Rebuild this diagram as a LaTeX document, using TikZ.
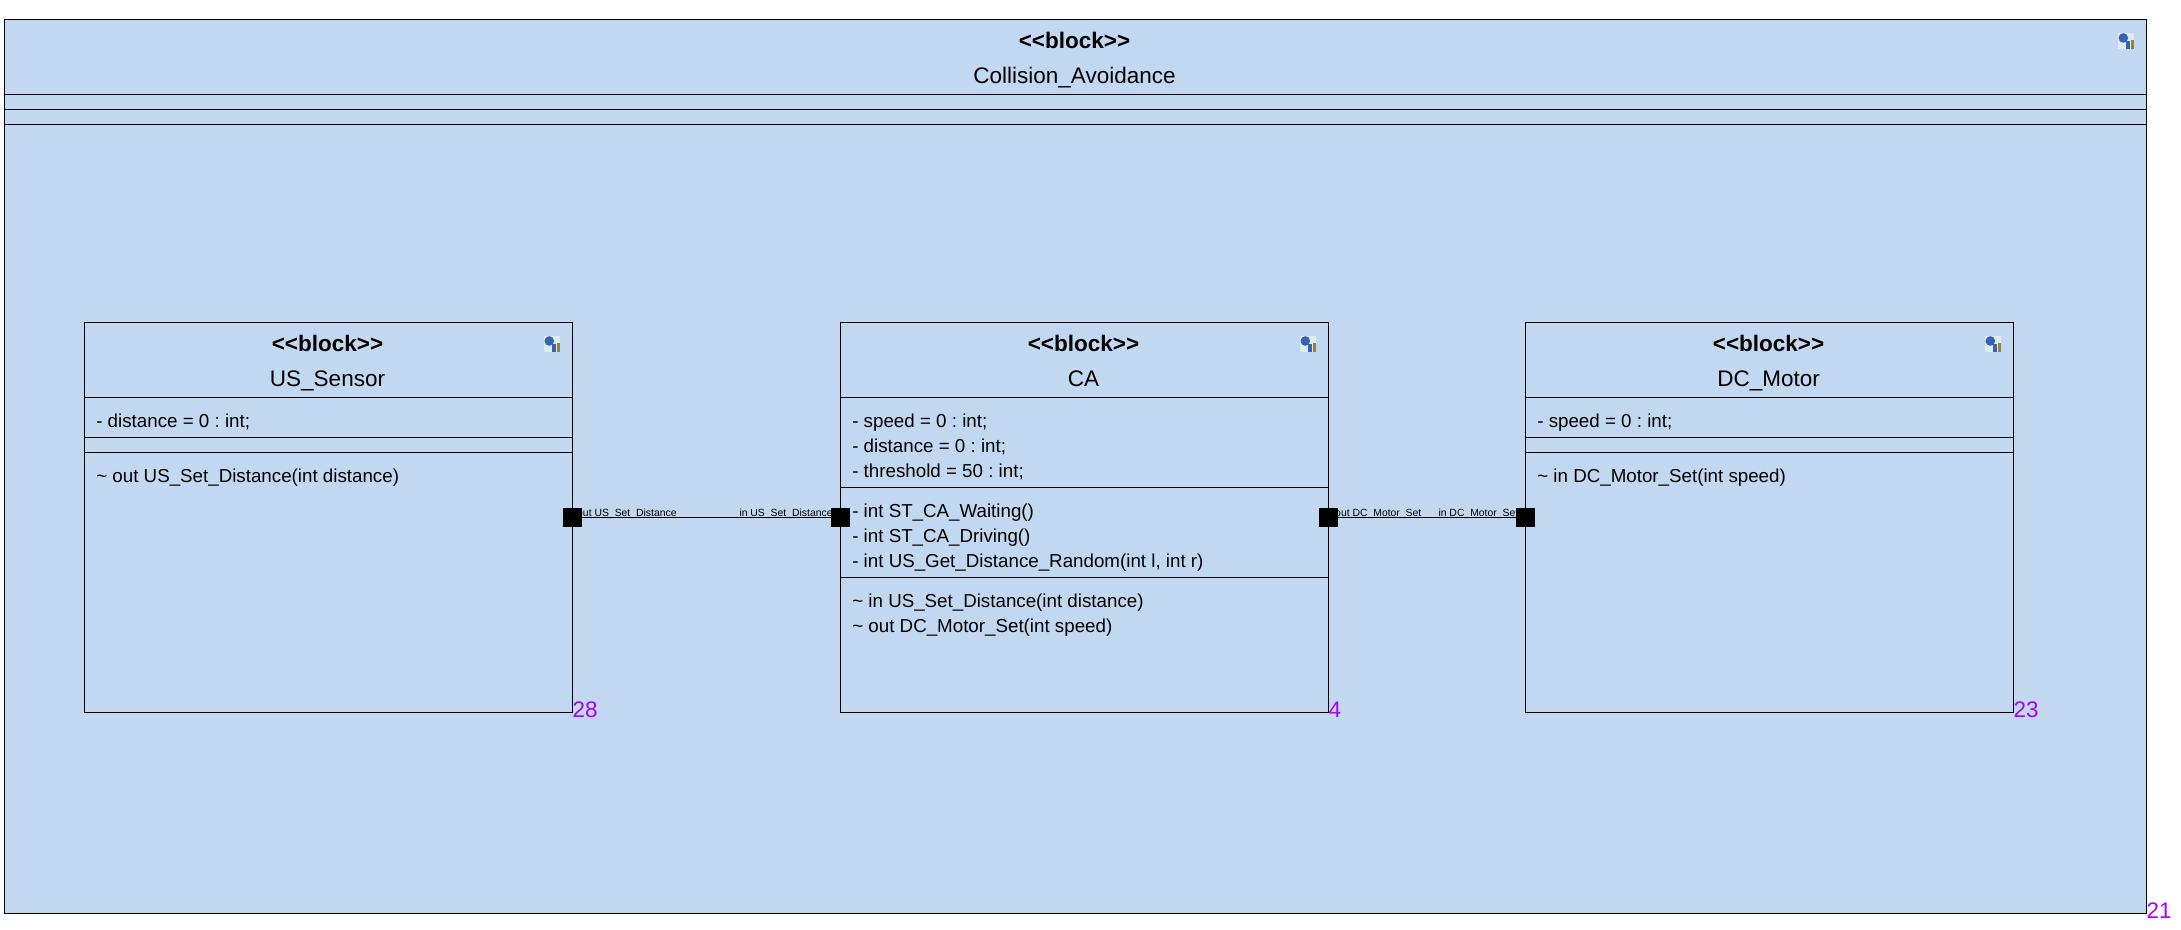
\documentclass[tikz,border=0pt]{standalone}
\usepackage{fontspec}
\setmainfont{Liberation Sans}
\usetikzlibrary{positioning}
\frenchspacing
\definecolor{blockblue}{HTML}{C2D8F0}
\definecolor{countpurple}{HTML}{AA00FF}
\definecolor{iconpale}{HTML}{DCEBEF}
\definecolor{iconblue}{HTML}{3A62B4}
\definecolor{iconbrown}{HTML}{9A8434}
\newcommand{\stereolabel}{{<}{<}block{>}{>}}
\tikzset{
  blockbox/.style={draw,line width=1.2pt,fill=blockblue,inner sep=0pt,outer sep=0pt,
    minimum width=488pt,minimum height=390pt},
  portbox/.style={fill=black,inner sep=0pt,outer sep=0pt,minimum size=19pt},
  stereotext/.style={font=\fontsize{22.5}{27}\selectfont\bfseries,anchor=base,inner sep=0pt},
  titletext/.style={font=\fontsize{22.5}{27}\selectfont,anchor=base,inner sep=0pt},
  membertext/.style={font=\fontsize{18.75}{25}\selectfont,anchor=base west,inner sep=0pt},
  porttext/.style={font=\fontsize{10.4}{12}\selectfont,anchor=base west,inner sep=0pt},
  counttext/.style={font=\fontsize{22.5}{27}\selectfont,text=countpurple,anchor=base west,inner sep=0pt},
  modelicon/.pic={
    \fill[iconpale] (-28.5,13) rectangle (-12.5,29);
    \fill[iconbrown] (-16,20.5) rectangle (-12.5,29);
    \fill[iconblue] (-23.2,18.5) circle (4.8pt);
    \fill[iconblue] (-21,21) rectangle (-16.5,29);
  }
}
\begin{document}
\begin{tikzpicture}[x=1pt,y=-1pt]
    \useasboundingbox (0,0) rectangle (2181,929);
    %% outer block
    \node[blockbox,minimum width=2142pt,minimum height=894pt] (avoid) at (1075.5,466.5) {};
    \foreach \ypos in {75,90,105}
      \draw[line width=1.2pt] ([shift={(0,\ypos)}]avoid.north west) -- ([shift={(0,\ypos)}]avoid.north east);
    \pic at (avoid.north east) {modelicon};
    \node[stereotext] (avoidstereo) at ([shift={(-1,28.5)}]avoid.north) {\stereolabel};
    \node[titletext] (avoidtitle) at ([shift={(-1,63.5)}]avoid.north) {Collision\_Avoidance};
    \node[counttext] (avoidcount) at ([shift={(0,5)}]avoid.south east) {21};
    %% inner blocks
    \node[blockbox] (us) at (328.5,517.5) {};
    \node[blockbox,right=268pt of us] (ca) {};
    \node[blockbox,right=197pt of ca] (dc) {};
    %% compartments
    \foreach \blk/\ypos in {us/75,us/115,us/130,ca/75,ca/165,ca/255,dc/75,dc/115,dc/130}
      \draw[line width=1.2pt] ([shift={(0,\ypos)}]\blk.north west) -- ([shift={(0,\ypos)}]\blk.north east);
    %% headers
    \foreach \blk/\name in {us/US\_Sensor,ca/CA,dc/DC\_Motor} {
      \pic at (\blk.north east) {modelicon};
      \node[stereotext] (\blk stereo) at ([shift={(-1,28.5)}]\blk.north) {\stereolabel};
      \node[titletext] (\blk title) at ([shift={(-1,63.5)}]\blk.north) {\name};
    }
    %% members
    \node[membertext] (usattr) at ([shift={(11.6,105.2)}]us.north west) {- distance = 0 : int;};
    \node[membertext] (usop) at ([shift={(11.6,160.2)}]us.north west) {\textasciitilde\ out US\_Set\_Distance(int distance)};
    \node[membertext] (caattra) at ([shift={(11.6,105.2)}]ca.north west) {- speed = 0 : int;};
    \node[membertext] (caattrb) at ([shift={(11.6,130.2)}]ca.north west) {- distance = 0 : int;};
    \node[membertext] (caattrc) at ([shift={(11.6,155.2)}]ca.north west) {- threshold = 50 : int;};
    \node[membertext] (cafunca) at ([shift={(11.6,195.2)}]ca.north west) {- int ST\_CA\_Waiting()};
    \node[membertext] (cafuncb) at ([shift={(11.6,220.2)}]ca.north west) {- int ST\_CA\_Driving()};
    \node[membertext] (cafuncc) at ([shift={(11.6,245.2)}]ca.north west) {- int US\_Get\_Distance\_Random(int l, int r)};
    \node[membertext] (caopa) at ([shift={(11.6,285.2)}]ca.north west) {\textasciitilde\ in US\_Set\_Distance(int distance)};
    \node[membertext] (caopb) at ([shift={(11.6,310.2)}]ca.north west) {\textasciitilde\ out DC\_Motor\_Set(int speed)};
    \node[membertext] (dcattr) at ([shift={(11.6,105.2)}]dc.north west) {- speed = 0 : int;};
    \node[membertext] (dcop) at ([shift={(11.6,160.2)}]dc.north west) {\textasciitilde\ in DC\_Motor\_Set(int speed)};
    %% counts
    \node[counttext] (uscount) at ([shift={(0,5.2)}]us.south east) {28};
    \node[counttext] (cacount) at ([shift={(0,5.2)}]ca.south east) {4};
    \node[counttext] (dccount) at ([shift={(0,5.2)}]dc.south east) {23};
    %% port labels
    \node[porttext] (usoutlabel) at (577,516.6) {out US\_Set\_Distance};
    \node[porttext] (cainlabel) at (739.3,516.6) {in US\_Set\_Distance};
    \node[porttext] (caoutlabel) at (1335,516.6) {out DC\_Motor\_Set};
    \node[porttext] (dcinlabel) at (1438.3,516.6) {in DC\_Motor\_Set};
    %% ports
    \node[portbox] (usout) at (us.east) {};
    \node[portbox] (cain) at (ca.west) {};
    \node[portbox] (caout) at (ca.east) {};
    \node[portbox] (dcin) at (dc.west) {};
    \draw[line width=1.2pt] (usout) -- (cain);
    \draw[line width=1.2pt] (caout) -- (dcin);
  \end{tikzpicture}
\end{document}
